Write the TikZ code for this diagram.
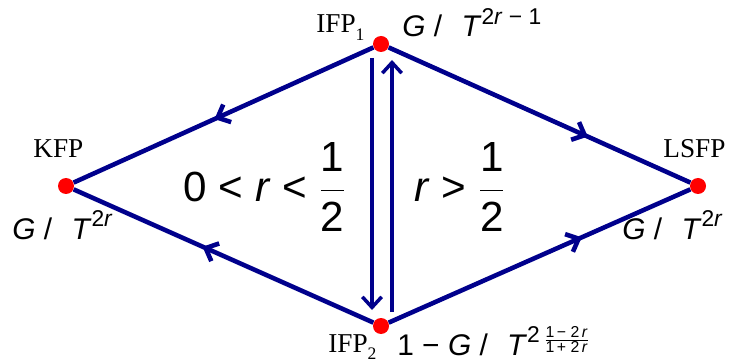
\documentclass[tikz,border=0pt]{standalone}
\usepackage{fontspec}
\setmainfont{Liberation Serif}
\newfontfamily\arialf{Liberation Sans}
\usepackage{tikz}
\usetikzlibrary{arrows.meta,calc,decorations.markings}
\definecolor{flowblue}{RGB}{0,0,140}
\definecolor{fpred}{RGB}{255,0,0}

\newcommand\supr[1]{\raisebox{7pt}{\fontsize{13}{13}\selectfont #1}}
\newcommand\subidx[1]{\raisebox{-4pt}{\fontsize{10}{10}\selectfont #1}}
\newcommand\halffrac{$\displaystyle\frac{\mbox{1}}{\mbox{2}}$}
\newcommand\expfrac{\raisebox{6pt}{\fontsize{9}{10}\selectfont
  $\textstyle\frac{\mbox{1\,− 2\,\textit{r}}}{\mbox{1\,+ 2\,\textit{r}}}$}}

\tikzset{
  fixpt/.style={circle, fill=fpred, inner sep=0pt, minimum size=0.32cm},
  fpname/.style={font=\fontsize{15.5}{17}\selectfont, inner sep=0pt, anchor=base west},
  scaling/.style={font=\arialf\fontsize{17}{19}\selectfont, inner sep=0pt, anchor=base west},
  region/.style={font=\arialf\fontsize{24}{28}\selectfont, inner sep=0pt},
  flow/.style={flowblue, line width=2.6pt},
  midarrow/.style={postaction={decorate}, decoration={markings,
    mark=at position #1 with {\arrow{Straight Barb[length=6pt,width=11pt]}}}},
}

\begin{document}
\begin{tikzpicture}[x=0.02cm, y=-0.02cm]
\useasboundingbox (0,0) rectangle (756,364);

% Fixed points
\node[fixpt] (kfp) at (66,186) {};
\node[fixpt] (ifpa) at (381,44) {};
\node[fixpt] (lsfp) at (698,186) {};
\node[fixpt] (ifpb) at (381,326) {};

% RG flows
\draw[flow, midarrow=0.53] (ifpa) -- (kfp);
\draw[flow, midarrow=0.57] (ifpb) -- (kfp);
\draw[flow, midarrow=0.66] (ifpa) -- (lsfp);
\draw[flow, midarrow=0.64] (ifpb) -- (lsfp);
\draw[flow, line width=2pt, -{Straight Barb[length=6pt,width=11pt]}]
  ($(ifpa)+(-9,14)$) -- ($(ifpb)+(-9,-16)$);
\draw[flow, line width=2pt, -{Straight Barb[length=6pt,width=11pt]}]
  ($(ifpb)+(11,-14)$) -- ($(ifpa)+(11,16)$);

% Names
\node[fpname] (kfpname) at (33,158) {KFP};
\node[fpname] (lsfpname) at (663,158) {LSFP};
\node[fpname] (ifpaname) at (316,33) {IFP\subidx{1}};
\node[fpname] (ifpbname) at (328,352) {IFP\subidx{2}};

% Scaling forms
\node[scaling] (kfpform) at (12,239) {\textit{G} /\hspace{11pt}\textit{T}\supr{2\textit{r}}};
\node[scaling] (lsfpform) at (622,239) {\textit{G} /\hspace{11pt}\textit{T}\supr{2\textit{r}}};
\node[scaling] (ifpaform) at (402,37) {\textit{G} /\hspace{11pt}\textit{T}\supr{2\textit{r} − 1}};
\node[scaling] (ifpbform) at (397,355) {1 − \textit{G} /\hspace{11pt}\textit{T}\supr{2}\hspace{2pt}\expfrac};

% Regions
\node[region] (small) at (265,187) {0 < \textit{r} < \halffrac};
\node[region] (large) at (460,187) {\textit{r} > \halffrac};
\end{tikzpicture}
\end{document}
